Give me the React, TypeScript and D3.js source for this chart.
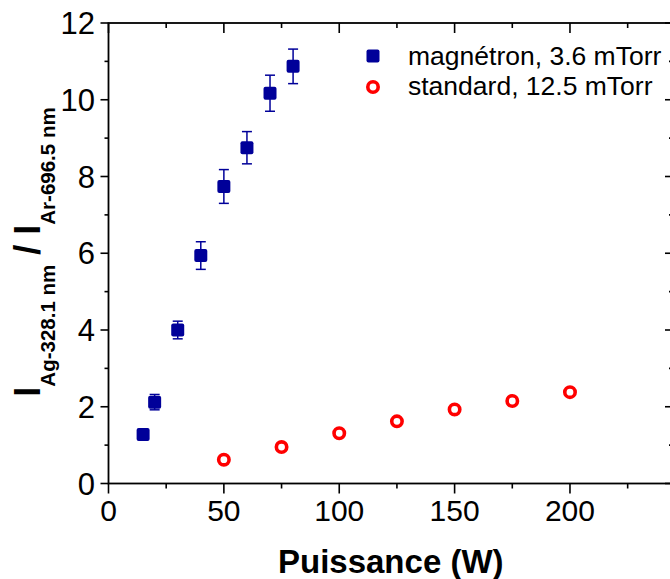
import React from 'react';
import * as d3 from 'd3';

const magX = [15, 20, 30, 40, 50, 60, 70, 80];
const magY = [1.28, 2.12, 4.0, 5.94, 7.74, 8.75, 10.17, 10.87];
const magErr = [0.1, 0.2, 0.23, 0.36, 0.44, 0.42, 0.47, 0.45];
const stdX = [50, 75, 100, 125, 150, 175, 200];
const stdY = [0.62, 0.95, 1.31, 1.62, 1.93, 2.15, 2.38];
const xTicks = [0, 50, 100, 150, 200];
const yTicks = [0, 2, 4, 6, 8, 10, 12];
const legendLabels = ['magnétron, 3.6 mTorr', 'standard, 12.5 mTorr'];

const FONT = "Arial, 'Liberation Sans', sans-serif";
const BLUE = '#000099';
const RED = '#ff0000';

export default function App() {
  const W = 670, H = 579;
  const x = d3.scaleLinear().domain([0, 244]).range([108.5, 671.5]);
  const y = d3.scaleLinear().domain([0, 12]).range([483.5, 23]);
  const [x0] = x.range();
  const xr = 673;
  const [y0, y1] = y.range();
  const xMinor = d3.range(25, 244, 50);
  const yMinor = d3.range(1, 12, 2);

  return (
    <svg width={W} height={H} style={{ position: 'fixed', left: 0, top: 0, background: '#fff' }} fontFamily={FONT}>
      <rect x={0} y={0} width={W} height={H} fill="#fff" />
      {/* frame */}
      <rect x={x0} y={y1} width={xr - x0} height={y0 - y1} fill="none" stroke="#000" strokeWidth={1.8} />
      {/* bottom ticks */}
      {xTicks.map(t => (
        <line key={'xb' + t} x1={x(t)} x2={x(t)} y1={y0} y2={y0 + 10} stroke="#000" strokeWidth={1.6} />
      ))}
      {xMinor.map(t => (
        <line key={'xbm' + t} x1={x(t)} x2={x(t)} y1={y0} y2={y0 + 5} stroke="#000" strokeWidth={1.6} />
      ))}
      {/* top ticks (inward) */}
      {xTicks.map(t => (
        <line key={'xt' + t} x1={x(t)} x2={x(t)} y1={y1} y2={y1 + 10} stroke="#000" strokeWidth={1.6} />
      ))}
      {xMinor.map(t => (
        <line key={'xtm' + t} x1={x(t)} x2={x(t)} y1={y1} y2={y1 + 5} stroke="#000" strokeWidth={1.6} />
      ))}
      {/* left ticks (outward) */}
      {yTicks.map(t => (
        <line key={'yl' + t} x1={x0} x2={x0 - 8} y1={y(t)} y2={y(t)} stroke="#000" strokeWidth={1.6} />
      ))}
      {yMinor.map(t => (
        <line key={'ylm' + t} x1={x0} x2={x0 - 4} y1={y(t)} y2={y(t)} stroke="#000" strokeWidth={1.6} />
      ))}
      {/* right ticks (inward) */}
      {yTicks.map(t => (
        <line key={'yr' + t} x1={xr} x2={xr - 8} y1={y(t)} y2={y(t)} stroke="#000" strokeWidth={1.6} />
      ))}
      {yMinor.map(t => (
        <line key={'yrm' + t} x1={xr} x2={xr - 4} y1={y(t)} y2={y(t)} stroke="#000" strokeWidth={1.6} />
      ))}
      {/* tick labels */}
      {xTicks.map(t => (
        <text key={'xl' + t} x={x(t)} y={521} fontSize={30} textAnchor="middle" fill="#000">{t}</text>
      ))}
      {yTicks.map(t => (
        <text key={'ylb' + t} x={95} y={y(t)} dy="0.36em" fontSize={31} textAnchor="end" fill="#000">{t}</text>
      ))}
      {/* axis titles */}
      <text x={(x0 + xr) / 2} y={573} fontSize={33} fontWeight="bold" textAnchor="middle" fill="#000">Puissance (W)</text>
      <text transform={`translate(40,252) rotate(-90)`} textAnchor="middle" fontWeight="bold" fill="#000">
        <tspan fontSize={36}>I</tspan>
        <tspan fontSize={20.5} dy={15}>Ag-328.1 nm</tspan>
        <tspan fontSize={36} dy={-15}>{' / I'}</tspan>
        <tspan fontSize={20.5} dy={15}>Ar-696.5 nm</tspan>
      </text>
      {/* magnetron error bars */}
      {magX.map((v, i) => {
        const cx = x(v);
        const ya = y(magY[i] + magErr[i]);
        const yb = y(magY[i] - magErr[i]);
        return (
          <g key={'e' + i} stroke={BLUE} strokeWidth={1.5}>
            <line x1={cx} x2={cx} y1={ya} y2={yb} />
            <line x1={cx - 5} x2={cx + 5} y1={ya} y2={ya} />
            <line x1={cx - 5} x2={cx + 5} y1={yb} y2={yb} />
          </g>
        );
      })}
      {/* magnetron squares */}
      {magX.map((v, i) => (
        <rect key={'s' + i} x={x(v) - 6.5} y={y(magY[i]) - 6.5} width={13} height={13} rx={2} fill={BLUE} />
      ))}
      {/* standard circles */}
      {stdX.map((v, i) => (
        <circle key={'c' + i} cx={x(v)} cy={y(stdY[i])} r={5.2} fill="#fff" stroke={RED} strokeWidth={3.6} />
      ))}
      {/* legend */}
      <rect x={373 - 6.5} y={56 - 6.5} width={13} height={13} rx={2} fill={BLUE} />
      <circle cx={373} cy={87} r={5.2} fill="#fff" stroke={RED} strokeWidth={3.6} />
      <text x={408} y={65} fontSize={26.5} fill="#000">{legendLabels[0]}</text>
      <text x={408} y={95} fontSize={26.5} fill="#000">{legendLabels[1]}</text>
    </svg>
  );
}
